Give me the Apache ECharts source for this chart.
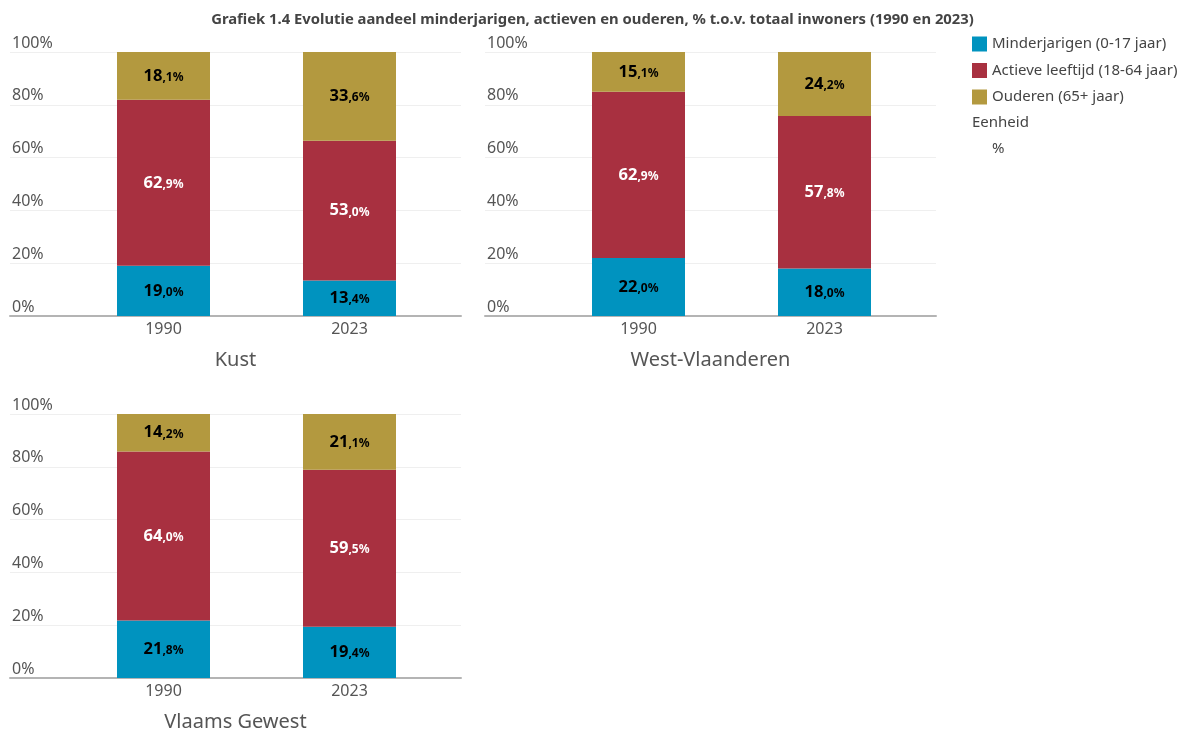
<!DOCTYPE html>
<html>
<head>
<meta charset="utf-8">
<script src="https://cdn.jsdelivr.net/npm/echarts@6/dist/echarts.min.js"></script>
<style>
  html, body { margin: 0; padding: 0; background: #fff; }
  #chart { width: 1185px; height: 733px; }
</style>
</head>
<body>
<div id="chart"></div>
<script>
// data
const years = ['1990', '2023']
const panels = ['Kust', 'West-Vlaanderen', 'Vlaams Gewest']
const seriesNames = ['Minderjarigen (0-17 jaar)', 'Actieve leeftijd (18-64 jaar)', 'Ouderen (65+ jaar)']
const minderjarigen = [[19.0, 13.4], [22.0, 18.0], [21.8, 19.4]]
const actieven = [[62.9, 53.0], [62.9, 57.8], [64.0, 59.5]]
const ouderen = [[18.1, 33.6], [15.1, 24.2], [14.2, 21.1]]

const colors = ['#0093bf', '#a83040', '#b3993f']
const labelColors = ['#000', '#fff', '#000']
const font = 'Noto Sans'

// panel positions (background grid + bar grid)
const pos = [
    { left: 10, top: 52 },
    { left: 485, top: 52 },
    { left: 10, top: 414 }
]

let grids = []
let xAxes = []
let yAxes = []
let series = []
let graphics = []

function fmt(p) {
    let parts = p.value.toFixed(1).split('.')
    return '{a|' + parts[0] + '}{b|,' + parts[1] + '%}'
}

pos.forEach((p, i) => {
    // achtergrond grid met rasterlijnen
    grids.push({ left: p.left, top: p.top, width: 451, height: 264 })
    // grid voor de staven
    grids.push({ left: p.left + 60.5, top: p.top, width: 372, height: 264 })

    xAxes.push({
        type: 'category', gridIndex: i * 2, data: years,
        axisLine: { lineStyle: { color: '#b4b4b4', width: 2 } },
        axisTick: { show: false }, axisLabel: { show: false }
    })
    xAxes.push({
        type: 'category', gridIndex: i * 2 + 1, data: years,
        axisLine: { show: false }, axisTick: { show: false },
        axisLabel: { color: '#555', fontSize: 16, fontFamily: font, margin: 5 }
    })
    yAxes.push({
        type: 'value', gridIndex: i * 2, min: 0, max: 100, interval: 20,
        axisLine: { show: false }, axisTick: { show: false },
        splitLine: { lineStyle: { color: '#efefef' } },
        axisLabel: {
            inside: true, margin: 2, verticalAlign: 'bottom', padding: [0, 0, 1, 0],
            formatter: '{value}%', color: '#555', fontSize: 16, fontFamily: font
        }
    })
    yAxes.push({
        type: 'value', gridIndex: i * 2 + 1, min: 0, max: 100,
        show: false, splitLine: { show: false }
    })

    let values = [minderjarigen[i], actieven[i], ouderen[i]]
    values.forEach((v, k) => {
        series.push({
            name: seriesNames[k], type: 'bar', stack: 'p' + i,
            xAxisIndex: i * 2 + 1, yAxisIndex: i * 2 + 1,
            barWidth: 93, data: v,
            itemStyle: { color: colors[k] },
            label: {
                show: true, position: 'inside', formatter: fmt,
                rich: {
                    a: { fontSize: 16.5, fontWeight: 'bold', color: labelColors[k], fontFamily: font },
                    b: { fontSize: 12, fontWeight: 'bold', color: labelColors[k], fontFamily: font, padding: [3, 0, 0, 0] }
                }
            }
        })
    })

    graphics.push({
        type: 'text', x: p.left + 225.5, y: p.top + 308,
        style: { text: panels[i], fill: '#555', font: '20px "Noto Sans"', textAlign: 'center', textVerticalAlign: 'middle' }
    })
})

graphics.push({
    type: 'text', x: 972, y: 123,
    style: { text: 'Eenheid', fill: '#444', font: '15px "Noto Sans"', textVerticalAlign: 'middle' }
})
graphics.push({
    type: 'text', x: 992, y: 149,
    style: { text: '%', fill: '#444', font: '15px "Noto Sans"', textVerticalAlign: 'middle' }
})

let option = {
    animation: false,
    color: colors,
    title: {
        text: 'Grafiek 1.4 Evolutie aandeel minderjarigen, actieven en ouderen, % t.o.v. totaal inwoners (1990 en 2023)',
        left: 'center', top: 7,
        textStyle: { fontSize: 14.8, fontWeight: 'bold', color: '#444', fontFamily: font }
    },
    legend: {
        data: seriesNames, orient: 'vertical', left: 972, top: 36.5, padding: 0,
        icon: 'rect', itemWidth: 15, itemHeight: 15, itemGap: 11.5,
        textStyle: { fontSize: 15, color: '#444', fontFamily: font }
    },
    grid: grids,
    xAxis: xAxes,
    yAxis: yAxes,
    series: series,
    graphic: graphics
}

let myChart = echarts.init(document.getElementById('chart'))
myChart.setOption(option)
</script>
</body>
</html>
